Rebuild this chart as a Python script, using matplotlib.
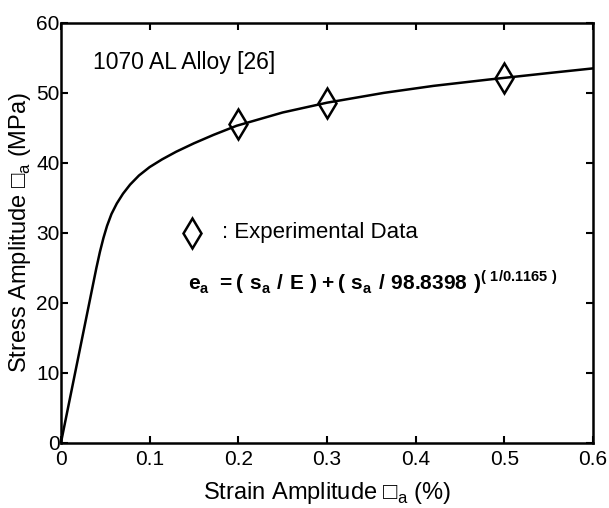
import matplotlib
matplotlib.use('Agg')
import matplotlib.pyplot as plt

plt.rcParams['font.family'] = ['Liberation Sans', 'DejaVu Sans']
plt.rcParams['mathtext.fontset'] = 'custom'
plt.rcParams['mathtext.rm'] = 'Liberation Sans'
plt.rcParams['mathtext.bf'] = 'Liberation Sans:bold'

# curve (strain %, stress MPa)
curve_strain = [0, 0.016, 0.032, 0.040, 0.044, 0.048, 0.052, 0.057, 0.063, 0.070,
                0.078, 0.088, 0.100, 0.114, 0.130, 0.150, 0.172, 0.198, 0.25,
                0.30, 0.364, 0.42, 0.482, 0.555, 0.60]
curve_stress = [0, 10, 20, 25, 27.3, 29.3, 31.0, 32.7, 34.2, 35.6,
                36.9, 38.2, 39.4, 40.5, 41.6, 42.8, 44.0, 45.3, 47.2,
                48.6, 50.0, 51.0, 51.9, 52.9, 53.5]

# experimental points
exp_strain = [0.2, 0.3, 0.5]
exp_stress = [45.5, 48.6, 52.1]

xticks = [0, 0.1, 0.2, 0.3, 0.4, 0.5, 0.6]
yticks = [0, 10, 20, 30, 40, 50, 60]

fig = plt.figure(figsize=(6.09, 5.08), dpi=100)
ax = fig.add_axes([0.100, 0.128, 0.874, 0.827])

ax.plot(curve_strain, curve_stress, color='black', lw=1.8)
ax.plot(exp_strain, exp_stress, linestyle='none', marker='d', markersize=15,
        markerfacecolor='none', markeredgecolor='black', markeredgewidth=1.8)

ax.set_xlim(0, 0.6)
ax.set_ylim(0, 60)
ax.set_xticks(xticks)
ax.set_xticklabels(['0', '0.1', '0.2', '0.3', '0.4', '0.5', '0.6'])
ax.set_yticks(yticks)
ax.tick_params(direction='in', top=True, right=True, length=5, width=1.5,
               labelsize=15)
ax.tick_params(axis='x', pad=5)
ax.tick_params(axis='y', pad=1)
for s in ax.spines.values():
    s.set_linewidth(1.8)

ax.set_xlabel('Strain Amplitude \u25a1$_{\\rm a}$ (%)', fontsize=17, labelpad=8)
ax.set_ylabel('Stress Amplitude \u25a1$_{\\rm a}$ (MPa)', fontsize=17, labelpad=2)

ax.text(0.036, 54.4, '1070 AL Alloy [26]', fontsize=16.5, va='center', ha='left')
ax.plot([0.148], [30], linestyle='none', marker='d', markersize=15,
        markerfacecolor='none', markeredgecolor='black', markeredgewidth=1.8)
ax.text(0.182, 30, ': Experimental Data', fontsize=16, va='center', ha='left')
formula = (r'$\mathbf{e}_{\mathbf{a}}\mathbf{\ =(\ s}_{\mathbf{a}}\mathbf{\ /\ E\ )+(\ s}_{\mathbf{a}}'
           r'\mathbf{\ /\ 98.8398\ )}^{\mathbf{(\ 1/0.1165\ )}}$')
ax.text(0.143, 23, formula, fontsize=15, va='center', ha='left')

fig.savefig('out.png', dpi=100)
